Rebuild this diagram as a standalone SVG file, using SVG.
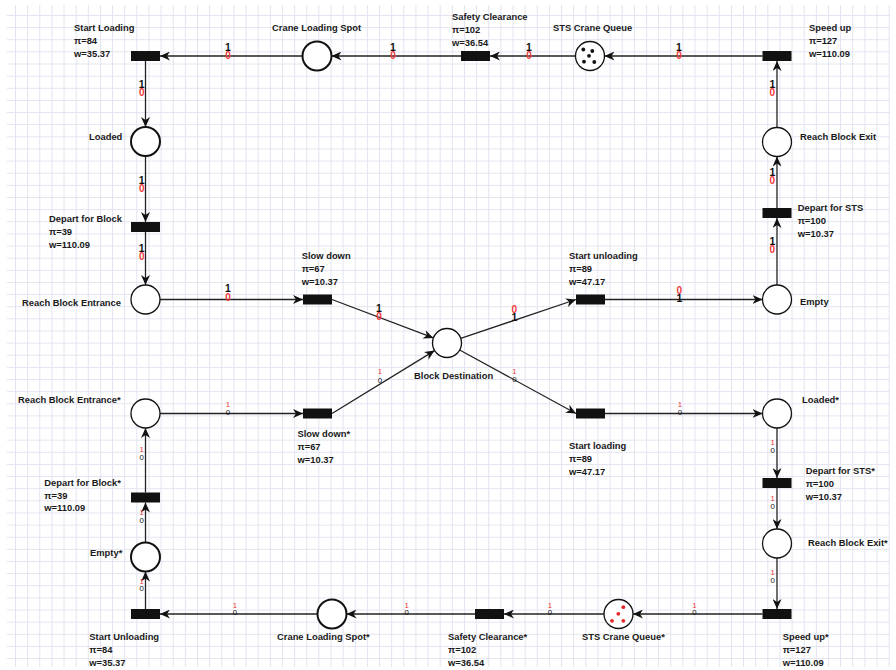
<svg xmlns="http://www.w3.org/2000/svg" width="896" height="670" viewBox="0 0 896 670">
<defs>
<pattern id="grid" patternUnits="userSpaceOnUse" x="2.87" y="2.87" width="12.134" height="12.134">
<path d="M0,0.5 H12.134 M0.5,0 V12.134" fill="none" stroke="#e3e3f1" stroke-width="1"/>
</pattern>
<marker id="arr" viewBox="0 0 10 9" refX="10" refY="4.5" markerWidth="10" markerHeight="9" markerUnits="userSpaceOnUse" orient="auto">
<path d="M0,0 L10,4.5 L0,9 L3,4.5 Z" fill="#111"/>
</marker>
<style>
.t{font-family:"Liberation Sans",Arial,sans-serif;font-size:9.4px;font-weight:bold;fill:#1a1a1a}
.tr{fill:#111;stroke:none}
.pl{fill:#fff;stroke:#111;stroke-width:1.3}
.pk{fill:#fff;stroke:#111;stroke-width:2}
.e{stroke:#222;stroke-width:1.3;fill:none;marker-end:url(#arr)}
.a1{font-family:"Liberation Sans",Arial,sans-serif;font-size:10.5px;font-weight:bold;fill:#111;text-anchor:middle}
.a0{font-family:"Liberation Sans",Arial,sans-serif;font-size:10px;font-weight:bold;fill:#f03a3a;text-anchor:middle}
.b1{font-family:"Liberation Sans",Arial,sans-serif;font-size:7.8px;fill:#f03a3a;text-anchor:middle}
.b0{font-family:"Liberation Sans",Arial,sans-serif;font-size:7.8px;fill:#111;text-anchor:middle}
.tk{fill:#111}
.tkr{fill:#e82828}
</style>
</defs>
<rect width="896" height="670" fill="#fff"/>
<rect x="7" y="5" width="883" height="662" fill="url(#grid)"/>

<g id="connectors">
<line class="e" x1="762.5" y1="56" x2="604.5" y2="56"/>
<line class="e" x1="575.5" y1="56" x2="490" y2="56"/>
<line class="e" x1="461" y1="56" x2="331.5" y2="56"/>
<line class="e" x1="302.5" y1="56" x2="160" y2="56"/>
<line class="e" x1="145.5" y1="61" x2="145.5" y2="127"/>
<line class="e" x1="145.5" y1="156" x2="145.5" y2="222"/>
<line class="e" x1="145.5" y1="232" x2="145.5" y2="285"/>
<line class="e" x1="160" y1="299.5" x2="303" y2="299.5"/>
<line class="e" x1="332" y1="299.5" x2="433.4" y2="337.9"/>
<line class="e" x1="460.7" y1="338.4" x2="576" y2="299.5"/>
<line class="e" x1="605" y1="299.5" x2="762.5" y2="299.5"/>
<line class="e" x1="777" y1="285" x2="777" y2="218"/>
<line class="e" x1="777" y1="208" x2="777" y2="156.5"/>
<line class="e" x1="777" y1="127.5" x2="777" y2="61"/>
<line class="e" x1="160" y1="413.5" x2="303" y2="413.5"/>
<line class="e" x1="332" y1="413.5" x2="434.6" y2="350.6"/>
<line class="e" x1="459.7" y1="350" x2="576" y2="413.5"/>
<line class="e" x1="605" y1="413.5" x2="762.5" y2="413.5"/>
<line class="e" x1="777" y1="428" x2="777" y2="478"/>
<line class="e" x1="777" y1="488" x2="777" y2="529"/>
<line class="e" x1="777" y1="558" x2="777" y2="609"/>
<line class="e" x1="762.5" y1="614" x2="633" y2="614"/>
<line class="e" x1="604" y1="614" x2="504" y2="614"/>
<line class="e" x1="475" y1="614" x2="346.5" y2="614"/>
<line class="e" x1="317.5" y1="614" x2="160" y2="614"/>
<line class="e" x1="145.5" y1="609" x2="145.5" y2="571.5"/>
<line class="e" x1="145.5" y1="542.5" x2="145.5" y2="502.5"/>
<line class="e" x1="145.5" y1="492.5" x2="145.5" y2="428"/>

<text class="a1" x="679" y="51">1</text><text class="a0" x="679" y="58.5">0</text>
<text class="a1" x="529" y="51">1</text><text class="a0" x="529" y="58.5">0</text>
<text class="a1" x="393" y="51">1</text><text class="a0" x="393" y="58.5">0</text>
<text class="a1" x="228" y="51">1</text><text class="a0" x="228" y="58.5">0</text>
<text class="a1" x="141.7" y="87.5">1</text><text class="a0" x="141.7" y="95.5">0</text>
<text class="a1" x="141.7" y="184">1</text><text class="a0" x="141.7" y="191.5">0</text>
<text class="a1" x="141.7" y="252">1</text><text class="a0" x="141.7" y="260">0</text>
<text class="a1" x="228" y="292">1</text><text class="a0" x="228" y="300.5">0</text>
<text class="a1" x="379" y="312">1</text><text class="a0" x="379" y="320">0</text>
<text class="a0" x="514.3" y="313">0</text><text class="a1" x="514.3" y="320.5">1</text>
<text class="a0" x="679.3" y="293.5">0</text><text class="a1" x="679.3" y="301.5">1</text>
<text class="a1" x="772.3" y="244.5">1</text><text class="a0" x="772.3" y="252.5">0</text>
<text class="a1" x="772.3" y="176">1</text><text class="a0" x="772.3" y="183.5">0</text>
<text class="a1" x="772.3" y="87.5">1</text><text class="a0" x="772.3" y="95.5">0</text>

<text class="b1" x="228" y="407">1</text><text class="b0" x="228" y="414.5">0</text>
<text class="b1" x="380" y="373.5">1</text><text class="b0" x="380" y="382.5">0</text>
<text class="b1" x="514.3" y="373.5">1</text><text class="b0" x="514.3" y="382">0</text>
<text class="b1" x="680" y="407">1</text><text class="b0" x="680" y="414.5">0</text>
<text class="b1" x="772.7" y="445">1</text><text class="b0" x="772.7" y="452.5">0</text>
<text class="b1" x="772.7" y="501">1</text><text class="b0" x="772.7" y="508.5">0</text>
<text class="b1" x="772.7" y="574.5">1</text><text class="b0" x="772.7" y="582.5">0</text>
<text class="b1" x="694.3" y="607.5">1</text><text class="b0" x="694.3" y="615">0</text>
<text class="b1" x="550" y="607.5">1</text><text class="b0" x="550" y="615">0</text>
<text class="b1" x="406.7" y="607.5">1</text><text class="b0" x="406.7" y="615">0</text>
<text class="b1" x="235" y="607.5">1</text><text class="b0" x="235" y="615">0</text>
<text class="b1" x="141.7" y="583.5">1</text><text class="b0" x="141.7" y="590.5">0</text>
<text class="b1" x="141.7" y="515">1</text><text class="b0" x="141.7" y="522.5">0</text>
<text class="b1" x="141.7" y="451.5">1</text><text class="b0" x="141.7" y="459.5">0</text>
</g>

<g id="start-loading"><rect class="tr" x="131" y="51" width="29" height="10"/><text class="t" x="74" y="31">Start Loading</text><text class="t" x="74" y="44">π=84</text><text class="t" x="74" y="57">w=35.37</text></g>
<g id="crane-loading-spot"><circle class="pk" cx="317" cy="56" r="14.5"/><text class="t" x="272" y="31">Crane Loading Spot</text></g>
<g id="safety-clearance"><rect class="tr" x="461" y="51" width="29" height="10"/><text class="t" x="452" y="19.5">Safety Clearance</text><text class="t" x="452" y="32.5">π=102</text><text class="t" x="452" y="45.5">w=36.54</text></g>
<g id="sts-crane-queue"><circle class="pl" cx="590" cy="56" r="14.5"/><circle class="tk" cx="583.3" cy="49.5" r="1.9"/><circle class="tk" cx="592.3" cy="51" r="1.9"/><circle class="tk" cx="589" cy="55.8" r="1.9"/><circle class="tk" cx="584" cy="61.7" r="1.9"/><circle class="tk" cx="594.3" cy="62" r="1.9"/><text class="t" x="553" y="31">STS Crane Queue</text></g>
<g id="speed-up"><rect class="tr" x="762.5" y="51" width="29" height="10"/><text class="t" x="809" y="31">Speed up</text><text class="t" x="809" y="44">π=127</text><text class="t" x="809" y="57">w=110.09</text></g>
<g id="reach-block-exit"><circle class="pl" cx="777" cy="142" r="14.5"/><text class="t" x="800" y="140">Reach Block Exit</text></g>
<g id="depart-for-sts"><rect class="tr" x="762.5" y="208" width="29" height="10"/><text class="t" x="797.7" y="211">Depart for STS</text><text class="t" x="797.7" y="224">π=100</text><text class="t" x="797.7" y="237">w=10.37</text></g>
<g id="empty"><circle class="pl" cx="777" cy="299.5" r="14.5"/><text class="t" x="800" y="305">Empty</text></g>
<g id="loaded"><circle class="pk" cx="145.5" cy="141.5" r="14.5"/><text class="t" x="89" y="140">Loaded</text></g>
<g id="depart-for-block"><rect class="tr" x="131" y="222" width="29" height="10"/><text class="t" x="49" y="222">Depart for Block</text><text class="t" x="49" y="235">π=39</text><text class="t" x="49" y="248">w=110.09</text></g>
<g id="reach-block-entrance"><circle class="pl" cx="145.5" cy="299.5" r="14.5"/><text class="t" x="22" y="306">Reach Block Entrance</text></g>
<g id="slow-down"><rect class="tr" x="303" y="294.5" width="29" height="10"/><text class="t" x="301.7" y="259">Slow down</text><text class="t" x="301.7" y="272">π=67</text><text class="t" x="301.7" y="285">w=10.37</text></g>
<g id="start-unloading"><rect class="tr" x="576" y="294.5" width="29" height="10"/><text class="t" x="569" y="259">Start unloading</text><text class="t" x="569" y="272">π=89</text><text class="t" x="569" y="285">w=47.17</text></g>
<g id="block-destination"><circle class="pl" cx="447" cy="343" r="14.5"/><text class="t" x="414" y="378.5">Block Destination</text></g>
<g id="reach-block-entrance-star"><circle class="pl" cx="145.5" cy="413.5" r="14.5"/><text class="t" x="18" y="402.5">Reach Block Entrance*</text></g>
<g id="slow-down-star"><rect class="tr" x="303" y="408.5" width="29" height="10"/><text class="t" x="297.5" y="437">Slow down*</text><text class="t" x="297.5" y="450">π=67</text><text class="t" x="297.5" y="463">w=10.37</text></g>
<g id="start-loading-lower"><rect class="tr" x="576" y="408.5" width="29" height="10"/><text class="t" x="569" y="449">Start loading</text><text class="t" x="569" y="462">π=89</text><text class="t" x="569" y="475">w=47.17</text></g>
<g id="loaded-star"><circle class="pl" cx="777" cy="413.5" r="14.5"/><text class="t" x="802" y="402.5">Loaded*</text></g>
<g id="depart-for-sts-star"><rect class="tr" x="762.5" y="478" width="29" height="10"/><text class="t" x="805.7" y="474">Depart for STS*</text><text class="t" x="805.7" y="487">π=100</text><text class="t" x="805.7" y="500">w=10.37</text></g>
<g id="reach-block-exit-star"><circle class="pl" cx="777" cy="543.5" r="14.5"/><text class="t" x="808" y="545.5">Reach Block Exit*</text></g>
<g id="speed-up-star"><rect class="tr" x="762.5" y="609" width="29" height="10"/><text class="t" x="782.7" y="640">Speed up*</text><text class="t" x="782.7" y="653">π=127</text><text class="t" x="782.7" y="666">w=110.09</text></g>
<g id="sts-crane-queue-star"><circle class="pl" cx="618.5" cy="614" r="14.5"/><circle class="tkr" cx="623.3" cy="607.2" r="1.9"/><circle class="tkr" cx="618.3" cy="613.8" r="1.9"/><circle class="tkr" cx="612" cy="620.8" r="1.9"/><circle class="tkr" cx="623.3" cy="620.8" r="1.9"/><text class="t" x="582" y="640">STS Crane Queue*</text></g>
<g id="safety-clearance-star"><rect class="tr" x="475" y="609" width="29" height="10"/><text class="t" x="448" y="640">Safety Clearance*</text><text class="t" x="448" y="653">π=102</text><text class="t" x="448" y="666">w=36.54</text></g>
<g id="crane-loading-spot-star"><circle class="pk" cx="332" cy="614" r="14.5"/><text class="t" x="277" y="640">Crane Loading Spot*</text></g>
<g id="start-unloading-lower"><rect class="tr" x="131" y="609" width="29" height="10"/><text class="t" x="89.3" y="640">Start Unloading</text><text class="t" x="89.3" y="653">π=84</text><text class="t" x="89.3" y="666">w=35.37</text></g>
<g id="empty-star"><circle class="pk" cx="145.5" cy="557" r="14.5"/><text class="t" x="90" y="556">Empty*</text></g>
<g id="depart-for-block-star"><rect class="tr" x="131" y="492.5" width="29" height="10"/><text class="t" x="44.3" y="485.5">Depart for Block*</text><text class="t" x="44.3" y="498.5">π=39</text><text class="t" x="44.3" y="511">w=110.09</text></g>
</svg>
